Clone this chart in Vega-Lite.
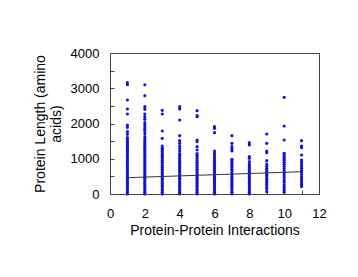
{
  "$schema": "https://vega.github.io/schema/vega-lite/v6.json",
  "width": 209,
  "height": 141,
  "autosize": "none",
  "padding": {"left": 110, "top": 53, "right": 39, "bottom": 83},
  "background": "white",
  "config": {
    "view": {"stroke": "#444", "strokeWidth": 1},
    "font": "Liberation Sans",
    "axis": {"grid": false, "domain": false, "labelFont": "Liberation Sans", "titleFont": "Liberation Sans", "labelFontSize": 13, "titleFontSize": 14, "labelColor": "black", "titleColor": "black", "titleFontWeight": "normal", "tickColor": "#444"}
  },
  "datasets": {
    "pts": [
      {"x":1,"y":0},{"x":1,"y":50},{"x":1,"y":100},{"x":1,"y":150},{"x":1,"y":200},{"x":1,"y":250},{"x":1,"y":300},{"x":1,"y":350},{"x":1,"y":400},{"x":1,"y":450},{"x":1,"y":500},{"x":1,"y":550},{"x":1,"y":600},{"x":1,"y":650},{"x":1,"y":700},{"x":1,"y":750},{"x":1,"y":800},{"x":1,"y":850},{"x":1,"y":900},{"x":1,"y":950},{"x":1,"y":1000},{"x":1,"y":1050},{"x":1,"y":1100},{"x":1,"y":1150},{"x":1,"y":1200},{"x":1,"y":1250},{"x":1,"y":1300},{"x":1,"y":1350},{"x":1,"y":1400},{"x":1,"y":1450},{"x":1,"y":1500},{"x":1,"y":1550},{"x":1,"y":1600},{"x":1,"y":1693},{"x":1,"y":1768},{"x":1,"y":1891},{"x":1,"y":1957},{"x":1,"y":2269},{"x":1,"y":2411},{"x":1,"y":2667},{"x":1,"y":3100},{"x":1,"y":3160},
      {"x":2,"y":0},{"x":2,"y":50},{"x":2,"y":100},{"x":2,"y":150},{"x":2,"y":200},{"x":2,"y":250},{"x":2,"y":300},{"x":2,"y":350},{"x":2,"y":400},{"x":2,"y":450},{"x":2,"y":500},{"x":2,"y":550},{"x":2,"y":600},{"x":2,"y":650},{"x":2,"y":700},{"x":2,"y":750},{"x":2,"y":800},{"x":2,"y":850},{"x":2,"y":900},{"x":2,"y":950},{"x":2,"y":1000},{"x":2,"y":1050},{"x":2,"y":1100},{"x":2,"y":1150},{"x":2,"y":1200},{"x":2,"y":1250},{"x":2,"y":1300},{"x":2,"y":1350},{"x":2,"y":1400},{"x":2,"y":1450},{"x":2,"y":1500},{"x":2,"y":1560},{"x":2,"y":1620},{"x":2,"y":1700},{"x":2,"y":1770},{"x":2,"y":1840},{"x":2,"y":1900},{"x":2,"y":1960},{"x":2,"y":2024},{"x":2,"y":2118},{"x":2,"y":2194},{"x":2,"y":2269},{"x":2,"y":2402},{"x":2,"y":2477},{"x":2,"y":2790},{"x":2,"y":3100},
      {"x":3,"y":0},{"x":3,"y":50},{"x":3,"y":100},{"x":3,"y":150},{"x":3,"y":200},{"x":3,"y":250},{"x":3,"y":300},{"x":3,"y":350},{"x":3,"y":400},{"x":3,"y":450},{"x":3,"y":500},{"x":3,"y":550},{"x":3,"y":600},{"x":3,"y":650},{"x":3,"y":700},{"x":3,"y":750},{"x":3,"y":800},{"x":3,"y":850},{"x":3,"y":900},{"x":3,"y":950},{"x":3,"y":1000},{"x":3,"y":1050},{"x":3,"y":1100},{"x":3,"y":1150},{"x":3,"y":1200},{"x":3,"y":1250},{"x":3,"y":1300},{"x":3,"y":1362},{"x":3,"y":1579},{"x":3,"y":1787},{"x":3,"y":2269},{"x":3,"y":2373},
      {"x":4,"y":0},{"x":4,"y":50},{"x":4,"y":100},{"x":4,"y":150},{"x":4,"y":200},{"x":4,"y":250},{"x":4,"y":300},{"x":4,"y":350},{"x":4,"y":400},{"x":4,"y":450},{"x":4,"y":500},{"x":4,"y":550},{"x":4,"y":600},{"x":4,"y":650},{"x":4,"y":700},{"x":4,"y":750},{"x":4,"y":800},{"x":4,"y":850},{"x":4,"y":900},{"x":4,"y":950},{"x":4,"y":1000},{"x":4,"y":1050},{"x":4,"y":1100},{"x":4,"y":1150},{"x":4,"y":1220},{"x":4,"y":1290},{"x":4,"y":1360},{"x":4,"y":1437},{"x":4,"y":1513},{"x":4,"y":1655},{"x":4,"y":2100},{"x":4,"y":2411},{"x":4,"y":2477},
      {"x":5,"y":0},{"x":5,"y":50},{"x":5,"y":100},{"x":5,"y":150},{"x":5,"y":200},{"x":5,"y":250},{"x":5,"y":300},{"x":5,"y":350},{"x":5,"y":400},{"x":5,"y":450},{"x":5,"y":500},{"x":5,"y":550},{"x":5,"y":600},{"x":5,"y":650},{"x":5,"y":700},{"x":5,"y":750},{"x":5,"y":800},{"x":5,"y":850},{"x":5,"y":900},{"x":5,"y":950},{"x":5,"y":1000},{"x":5,"y":1050},{"x":5,"y":1100},{"x":5,"y":1150},{"x":5,"y":1248},{"x":5,"y":1343},{"x":5,"y":1485},{"x":5,"y":1532},{"x":5,"y":2194},{"x":5,"y":2222},{"x":5,"y":2364},
      {"x":6,"y":0},{"x":6,"y":50},{"x":6,"y":100},{"x":6,"y":150},{"x":6,"y":200},{"x":6,"y":250},{"x":6,"y":300},{"x":6,"y":350},{"x":6,"y":400},{"x":6,"y":450},{"x":6,"y":500},{"x":6,"y":550},{"x":6,"y":600},{"x":6,"y":650},{"x":6,"y":700},{"x":6,"y":750},{"x":6,"y":800},{"x":6,"y":850},{"x":6,"y":900},{"x":6,"y":950},{"x":6,"y":1000},{"x":6,"y":1050},{"x":6,"y":1110},{"x":6,"y":1160},{"x":6,"y":1220},{"x":6,"y":1740},{"x":6,"y":1863},{"x":6,"y":1910},
      {"x":7,"y":0},{"x":7,"y":50},{"x":7,"y":100},{"x":7,"y":150},{"x":7,"y":200},{"x":7,"y":250},{"x":7,"y":300},{"x":7,"y":350},{"x":7,"y":400},{"x":7,"y":450},{"x":7,"y":500},{"x":7,"y":550},{"x":7,"y":600},{"x":7,"y":650},{"x":7,"y":700},{"x":7,"y":750},{"x":7,"y":800},{"x":7,"y":850},{"x":7,"y":900},{"x":7,"y":950},{"x":7,"y":983},{"x":7,"y":1220},{"x":7,"y":1277},{"x":7,"y":1343},{"x":7,"y":1437},{"x":7,"y":1655},
      {"x":8,"y":0},{"x":8,"y":50},{"x":8,"y":100},{"x":8,"y":150},{"x":8,"y":200},{"x":8,"y":250},{"x":8,"y":300},{"x":8,"y":350},{"x":8,"y":400},{"x":8,"y":450},{"x":8,"y":500},{"x":8,"y":550},{"x":8,"y":600},{"x":8,"y":650},{"x":8,"y":700},{"x":8,"y":750},{"x":8,"y":800},{"x":8,"y":850},{"x":8,"y":917},{"x":8,"y":1012},{"x":8,"y":1059},{"x":8,"y":1390},{"x":8,"y":1456},
      {"x":9,"y":66},{"x":9,"y":150},{"x":9,"y":200},{"x":9,"y":260},{"x":9,"y":310},{"x":9,"y":360},{"x":9,"y":420},{"x":9,"y":480},{"x":9,"y":530},{"x":9,"y":580},{"x":9,"y":630},{"x":9,"y":680},{"x":9,"y":730},{"x":9,"y":790},{"x":9,"y":851},{"x":9,"y":946},{"x":9,"y":1172},{"x":9,"y":1220},{"x":9,"y":1437},{"x":9,"y":1702},
      {"x":10,"y":50},{"x":10,"y":100},{"x":10,"y":150},{"x":10,"y":200},{"x":10,"y":260},{"x":10,"y":330},{"x":10,"y":400},{"x":10,"y":470},{"x":10,"y":540},{"x":10,"y":600},{"x":10,"y":660},{"x":10,"y":720},{"x":10,"y":780},{"x":10,"y":840},{"x":10,"y":900},{"x":10,"y":960},{"x":10,"y":1010},{"x":10,"y":1060},{"x":10,"y":1110},{"x":10,"y":1154},{"x":10,"y":1532},{"x":10,"y":1929},{"x":10,"y":2742},
      {"x":11,"y":210},{"x":11,"y":260},{"x":11,"y":310},{"x":11,"y":370},{"x":11,"y":430},{"x":11,"y":490},{"x":11,"y":550},{"x":11,"y":610},{"x":11,"y":670},{"x":11,"y":730},{"x":11,"y":790},{"x":11,"y":850},{"x":11,"y":910},{"x":11,"y":964},{"x":11,"y":1106},{"x":11,"y":1314},{"x":11,"y":1362},{"x":11,"y":1513}
    ],
    "trend": [{"x": 1, "y": 463}, {"x": 11, "y": 632}]
  },
  "encoding": {
    "x": {"field": "x", "type": "quantitative", "scale": {"domain": [0, 12], "nice": false},
      "axis": {"values": [0,1,2,3,4,5,6,7,8,9,10,11,12], "labelOverlap": false, "labelFlush": false, "labelExpr": "(datum.value % 2) == 0 ? datum.label : ''", "tickSize": -4, "labelPadding": 17, "title": "Protein-Protein Interactions", "titlePadding": 3}},
    "y": {"field": "y", "type": "quantitative", "scale": {"domain": [0, 4000], "nice": false},
      "axis": {"values": [0,500,1000,1500,2000,2500,3000,3500,4000], "labelOverlap": false, "labelFlush": false, "labelExpr": "(datum.value % 1000) == 0 ? format(datum.value, 'd') : ''", "tickSize": -4, "labelPadding": 15, "title": ["Protein Length (amino", "acids)"], "titlePadding": 7}}
  },
  "layer": [
    {
      "data": {"name": "pts"},
      "mark": {"type": "circle", "size": 10, "color": "#1414c8", "opacity": 1}
    },
    {
      "data": {"name": "trend"},
      "mark": {"type": "line", "color": "#333", "strokeWidth": 1}
    }
  ]
}
